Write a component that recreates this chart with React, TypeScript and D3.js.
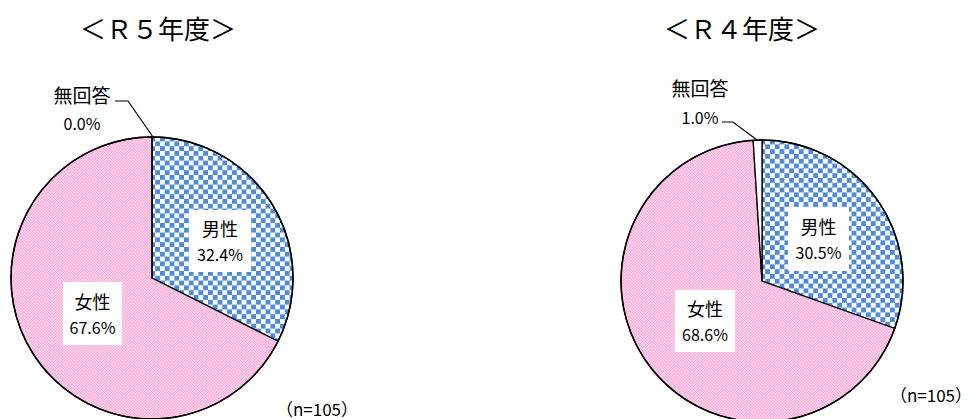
import React from "react";
import * as d3 from "d3";

const categories = ["男性", "女性", "無回答"];
const valuesR5 = [32.4, 67.6, 0.0];
const valuesR4 = [30.5, 68.6, 1.0];
const titles = ["＜Ｒ５年度＞", "＜Ｒ４年度＞"];
const nLabel = "（n=105）";

const FONT = "'Noto Sans CJK JP', 'Noto Sans', sans-serif";

type Box = { x: number; y: number; w: number; h: number };
type PieCfg = {
  values: number[];
  cx: number;
  cy: number;
  title: string;
  titleX: number;
  male: Box;
  female: Box;
  na: { textX: number; nameY: number; pctX: number; pctY: number; line: [number, number][] };
  nX: number;
  nY: number;
};

const fills = ["url(#checker)", "url(#pinkdots)", "#ffffff"];

function Pie({ cfg }: { cfg: PieCfg }) {
  const r = 141;
  const pie = d3.pie<number>().sort(null).value((d) => d);
  const arcs = pie(cfg.values);
  const arc = d3.arc<d3.PieArcDatum<number>>().innerRadius(0).outerRadius(r);
  const fmt = (v: number) => v.toFixed(1) + "%";
  const box = (b: Box, name: string, v: number) => (
    <g>
      <rect x={b.x} y={b.y} width={b.w} height={b.h} fill="#fff" />
      <text x={b.x + b.w / 2} y={b.y + b.h / 2 - 13} textAnchor="middle" dominantBaseline="central" fontSize={18} fontFamily={FONT}>
        {name}
      </text>
      <text x={b.x + b.w / 2} y={b.y + b.h / 2 + 13} textAnchor="middle" dominantBaseline="central" fontSize={16} fontFamily={FONT}>
        {fmt(v)}
      </text>
    </g>
  );
  return (
    <g>
      <text x={cfg.titleX} y={27} textAnchor="middle" dominantBaseline="central" fontSize={26} fontFamily={FONT}>
        {cfg.title}
      </text>
      <g transform={`translate(${cfg.cx},${cfg.cy})`}>
        {arcs.map((a, i) => (
          <path key={i} d={arc(a) || ""} fill={fills[i]} stroke="#000" strokeWidth={1.3} strokeLinejoin="round" />
        ))}
        <circle r={r} fill="none" stroke="#000" strokeWidth={1.5} />
      </g>
      {box(cfg.male, categories[0], cfg.values[0])}
      {box(cfg.female, categories[1], cfg.values[1])}
      <text x={cfg.na.textX} y={cfg.na.nameY} textAnchor="middle" dominantBaseline="central" fontSize={19} fontFamily={FONT}>
        {categories[2]}
      </text>
      <text x={cfg.na.pctX} y={cfg.na.pctY} textAnchor="middle" dominantBaseline="central" fontSize={16} fontFamily={FONT}>
        {fmt(cfg.values[2])}
      </text>
      <polyline points={cfg.na.line.map((p) => p.join(",")).join(" ")} fill="none" stroke="#000" strokeWidth={1.2} />
      <text x={cfg.nX} y={cfg.nY} textAnchor="middle" dominantBaseline="central" fontSize={17} fontFamily={FONT}>
        {nLabel}
      </text>
    </g>
  );
}

export default function App() {
  const left: PieCfg = {
    values: valuesR5,
    cx: 152,
    cy: 278,
    title: titles[0],
    titleX: 158,
    male: { x: 189, y: 210, w: 62, h: 62 },
    female: { x: 63, y: 282, w: 59, h: 63 },
    na: { textX: 82, nameY: 94, pctX: 82, pctY: 123, line: [[115, 101], [128, 101], [153, 137]] },
    nX: 317,
    nY: 408,
  };
  const right: PieCfg = {
    values: valuesR4,
    cx: 762,
    cy: 281,
    title: titles[1],
    titleX: 742,
    male: { x: 788, y: 207, w: 61, h: 64 },
    female: { x: 675, y: 290, w: 60, h: 62 },
    na: { textX: 700, nameY: 87, pctX: 700, pctY: 117, line: [[722, 122], [733, 122], [757, 140]] },
    nX: 931,
    nY: 394,
  };
  return (
    <div style={{ position: "fixed", left: 0, top: 0 }}>
      <svg width={971} height={419} style={{ display: "block", background: "#fff" }}>
        <defs>
          <pattern id="checker" patternUnits="userSpaceOnUse" width={9.6} height={9.6} x={152} y={137}>
            <rect width={9.6} height={9.6} fill="#ffffff" />
            <rect x={0} y={0} width={4.8} height={4.8} fill="#4f8bd6" />
            <rect x={4.8} y={4.8} width={4.8} height={4.8} fill="#4f8bd6" />
          </pattern>
          <pattern id="pinkdots" patternUnits="userSpaceOnUse" width={3} height={3}>
            <rect width={3} height={3} fill="#fcd4eb" />
            <rect x={0} y={0} width={1.5} height={1.5} fill="#f7aed9" />
            <rect x={1.5} y={1.5} width={1.5} height={1.5} fill="#f7aed9" />
          </pattern>
        </defs>
        <Pie cfg={left} />
        <Pie cfg={right} />
      </svg>
    </div>
  );
}
